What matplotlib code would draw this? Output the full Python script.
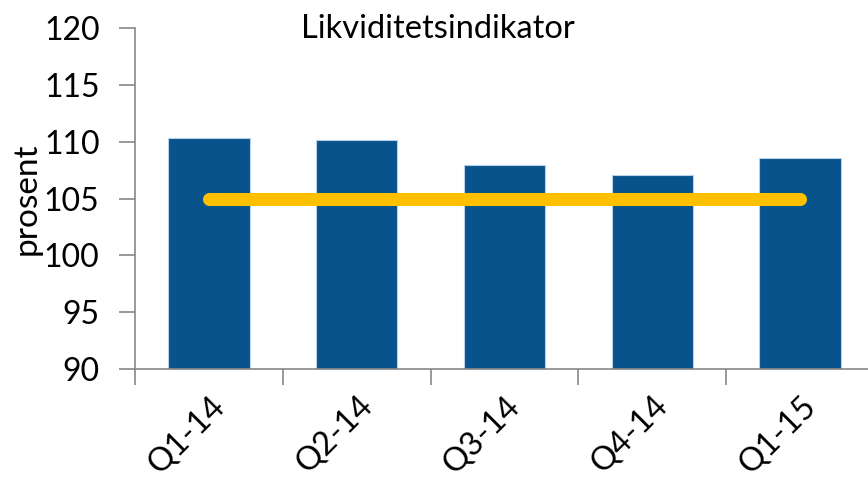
import matplotlib
matplotlib.use("Agg")
import matplotlib.pyplot as plt
import matplotlib.transforms as mtransforms
import numpy as np

categories = ["Q1-14", "Q2-14", "Q3-14", "Q4-14", "Q1-15"]
values = [110.3, 110.2, 108.0, 107.1, 108.6]
target = [105, 105, 105, 105, 105]
yticks = [90, 95, 100, 105, 110, 115, 120]

plt.rcParams['font.family'] = ['Lato', 'DejaVu Sans']

fig = plt.figure(figsize=(8.68, 4.79), dpi=100)
ax = fig.add_axes([135/868, 1-369/479, (874-135)/868, (369-28.3)/479])

x = np.arange(len(categories))
ax.bar(x, [v - 90 for v in values], bottom=90, width=0.55, color='#08538b',
       edgecolor='#b7d1ea', linewidth=0.8, zorder=2)
ax.plot(x, target, color='#ffc000', linewidth=9.4, solid_capstyle='round', zorder=3)

ax.set_ylim(90, 120)
ax.set_xlim(-0.5, len(categories) - 0.5)
ax.set_yticks(yticks)
ax.set_yticklabels([str(t) for t in yticks], fontsize=23)
ax.set_xticks(x)
ax.set_xticklabels(categories, rotation=45, ha='right', va='center',
                   rotation_mode='anchor', fontsize=23.5)
ax.set_xticks(np.arange(-0.5, len(categories)), minor=True)
ax.tick_params(axis='x', which='major', length=0, pad=23)
ax.tick_params(axis='x', which='minor', length=11.5, width=1.2, color='#878787')
ax.tick_params(axis='y', length=11.5, width=1.2, color='#878787', pad=14)

offset = mtransforms.ScaledTranslation(11/100, 0, fig.dpi_scale_trans)
for lab in ax.get_xticklabels():
    lab.set_transform(lab.get_transform() + offset)

for s in ['top', 'right']:
    ax.spines[s].set_visible(False)
for s in ['left', 'bottom']:
    ax.spines[s].set_color('#878787')
    ax.spines[s].set_linewidth(1.2)

ax.set_ylabel('prosent', fontsize=24, va='center')
ax.yaxis.set_label_coords((27-135)/739, 0.5)
fig.text(437.5/868, 1-38/479, 'Likviditetsindikator', fontsize=23.5,
         ha='center', va='baseline')

fig.savefig('out.png', dpi=100)
